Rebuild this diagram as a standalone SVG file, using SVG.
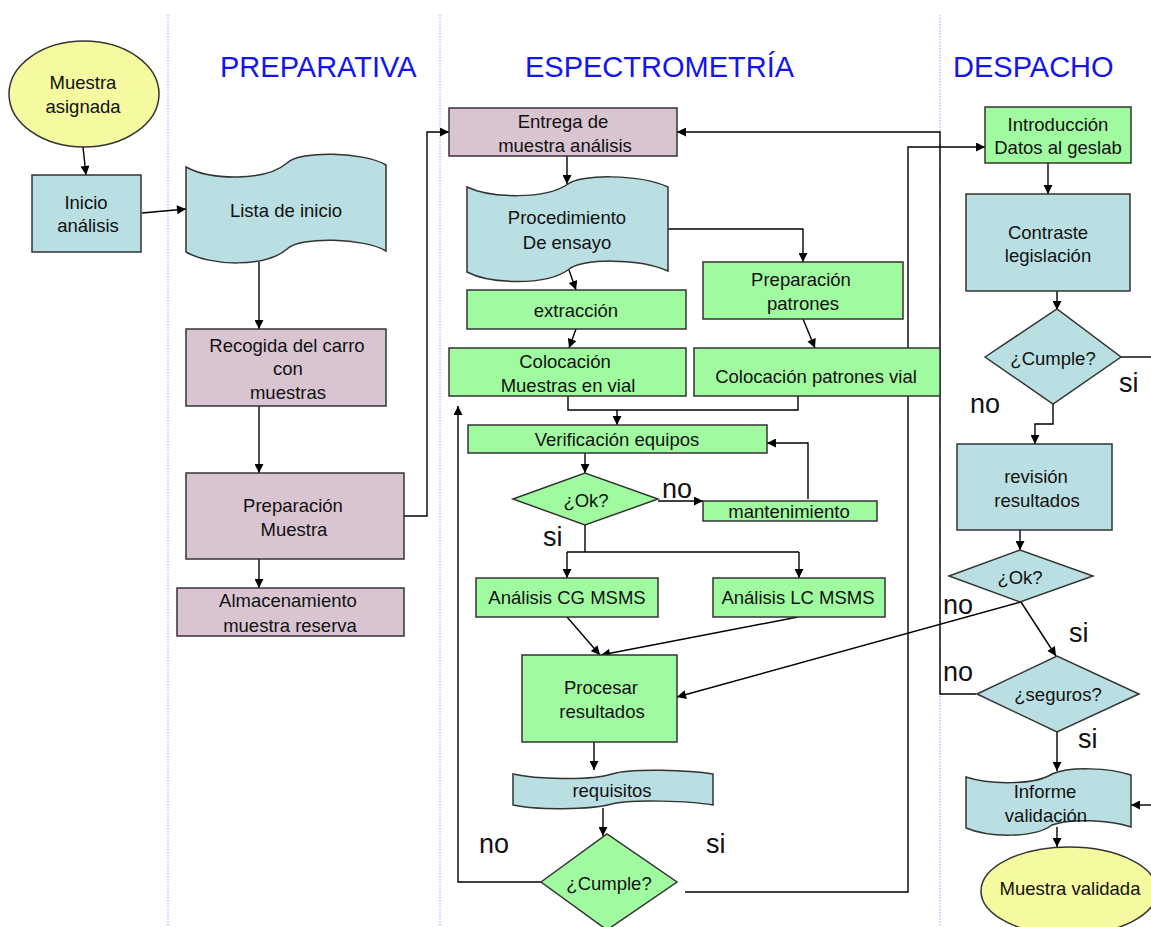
<svg xmlns="http://www.w3.org/2000/svg" width="1151" height="927" viewBox="0 0 1151 927">
<defs>
<marker id="ah" viewBox="0 0 10 10" refX="10" refY="5" markerWidth="10" markerHeight="9" markerUnits="userSpaceOnUse" orient="auto">
<path d="M0,0 L10,5 L0,10 Z" fill="#000"/>
</marker>
<style>
.n{stroke:#333;stroke-width:1.5}
.y{fill:#f5f99f}
.b{fill:#b9dfe2}
.m{fill:#d9c5d1}
.g{fill:#a0fba0}
text{font-family:"Liberation Sans",Arial,sans-serif;font-size:18.5px;fill:#111;text-anchor:middle}
.t{font-size:29px;fill:#1414f0;text-anchor:start}
.l{font-size:27px;text-anchor:start}
.c{fill:none;stroke:#000;stroke-width:1.4}
.lane{stroke:#8ea6ee;stroke-width:1;stroke-dasharray:1.5 1.5}
</style>
</defs>
<rect width="1151" height="927" fill="#fff"/>
<g id="lanes">
<line class="lane" x1="168" y1="15" x2="168" y2="927"/>
<line class="lane" x1="440" y1="15" x2="440" y2="927"/>
<line class="lane" x1="940" y1="15" x2="940" y2="927"/>
<text class="t" x="220" y="77">PREPARATIVA</text>
<text class="t" x="525" y="77">ESPECTROMETRÍA</text>
<text class="t" x="953" y="77">DESPACHO</text>
</g>
<g id="connectors">
<line class="c" x1="83" y1="147" x2="86" y2="175" marker-end="url(#ah)"/>
<line class="c" x1="142" y1="213" x2="186" y2="209" marker-end="url(#ah)"/>
<line class="c" x1="259" y1="262" x2="259" y2="329" marker-end="url(#ah)"/>
<line class="c" x1="259" y1="406" x2="259" y2="473" marker-end="url(#ah)"/>
<line class="c" x1="259" y1="559" x2="259" y2="588" marker-end="url(#ah)"/>
<polyline class="c" points="404,516 427,516 427,132 449,132" marker-end="url(#ah)"/>
<polyline class="c" points="976,694 940,694 940,132 677,132" marker-end="url(#ah)"/>
<line class="c" x1="567" y1="156" x2="567" y2="184" marker-end="url(#ah)"/>
<polyline class="c" points="668,229 803,229 803,262" marker-end="url(#ah)"/>
<line class="c" x1="569" y1="270" x2="576" y2="290" marker-end="url(#ah)"/>
<line class="c" x1="576" y1="329" x2="569" y2="348" marker-end="url(#ah)"/>
<line class="c" x1="803" y1="319" x2="815" y2="348" marker-end="url(#ah)"/>
<polyline class="c" points="568,396 568,410 798,410 798,396"/>
<line class="c" x1="617" y1="410" x2="617" y2="425" marker-end="url(#ah)"/>
<line class="c" x1="585" y1="453" x2="585" y2="473" marker-end="url(#ah)"/>
<line class="c" x1="658" y1="501" x2="703" y2="501" stroke-width="2" marker-end="url(#ah)"/>
<polyline class="c" points="808,499 808,443 767,443" marker-end="url(#ah)"/>
<polyline class="c" points="585,525 585,552"/>
<line class="c" x1="567" y1="552" x2="799" y2="552"/>
<line class="c" x1="567" y1="552" x2="567" y2="578" marker-end="url(#ah)"/>
<line class="c" x1="799" y1="552" x2="799" y2="578" marker-end="url(#ah)"/>
<line class="c" x1="567" y1="617" x2="600" y2="655" marker-end="url(#ah)"/>
<line class="c" x1="798" y1="617" x2="601" y2="655" marker-end="url(#ah)"/>
<line class="c" x1="1021" y1="602" x2="677" y2="697" stroke-width="2" marker-end="url(#ah)"/>
<line class="c" x1="594" y1="742" x2="594" y2="770" marker-end="url(#ah)"/>
<line class="c" x1="603" y1="808" x2="603" y2="836" marker-end="url(#ah)"/>
<polyline class="c" points="541,882 458,882 458,406" marker-end="url(#ah)"/>
<polyline class="c" points="685,892 908,892 908,147 985,147" marker-end="url(#ah)"/>
<line class="c" x1="1048" y1="163" x2="1048" y2="194" marker-end="url(#ah)"/>
<line class="c" x1="1057" y1="291" x2="1057" y2="310" marker-end="url(#ah)"/>
<line class="c" x1="1121" y1="357" x2="1151" y2="357" stroke-width="2"/>
<polyline class="c" points="1053,404 1053,424 1035,424 1035,444" marker-end="url(#ah)"/>
<line class="c" x1="1020" y1="530" x2="1020" y2="550" marker-end="url(#ah)"/>
<line class="c" x1="1021" y1="602" x2="1056" y2="656" marker-end="url(#ah)"/>
<line class="c" x1="1057" y1="732" x2="1057" y2="771" marker-end="url(#ah)"/>
<line class="c" x1="1151" y1="805" x2="1131" y2="805" stroke-width="2" marker-end="url(#ah)"/>
<line class="c" x1="1057" y1="827" x2="1057" y2="847" marker-end="url(#ah)"/>
</g>
<g id="labels">
<text class="l" x="662" y="498">no</text>
<text class="l" x="543" y="546">si</text>
<text class="l" x="479" y="853">no</text>
<text class="l" x="706" y="853">si</text>
<text class="l" x="1119" y="392">si</text>
<text class="l" x="970" y="413">no</text>
<text class="l" x="943" y="614">no</text>
<text class="l" x="1069" y="642">si</text>
<text class="l" x="943" y="681">no</text>
<text class="l" x="1078" y="748">si</text>
</g>
<g id="muestra-asignada">
<ellipse class="n y" cx="84" cy="94" rx="75" ry="53"/>
<text x="83" y="89">Muestra</text>
<text x="83" y="113">asignada</text>
</g>
<g id="inicio-analisis">
<rect class="n b" x="32" y="175" width="109" height="77"/>
<text x="86" y="209">Inicio</text>
<text x="88" y="232">análisis</text>
</g>
<g id="lista-inicio">
<path class="n b" d="M186,167 C210,180 265,182 287,163 C300,150 365,152 386,165 L386,251 C365,238 300,236 287,249 C265,268 210,266 186,252 Z"/>
<text x="286" y="217">Lista de inicio</text>
</g>
<g id="recogida">
<rect class="n m" x="186" y="329" width="200" height="77"/>
<text x="287" y="352">Recogida del carro</text>
<text x="288" y="375">con</text>
<text x="288" y="399">muestras</text>
</g>
<g id="preparacion-muestra">
<rect class="n m" x="186" y="473" width="218" height="86"/>
<text x="293" y="512">Preparación</text>
<text x="294" y="536">Muestra</text>
</g>
<g id="almacenamiento">
<rect class="n m" x="177" y="588" width="227" height="48"/>
<text x="288" y="607">Almacenamiento</text>
<text x="290" y="632">muestra reserva</text>
</g>
<g id="entrega">
<rect class="n m" x="449" y="108" width="228" height="48"/>
<text x="563" y="128">Entrega de</text>
<text x="565" y="152">muestra análisis</text>
</g>
<g id="procedimiento">
<path class="n b" d="M467,187 C490,198 545,200 568,184 C580,174 640,174 668,187 L668,271 C640,258 580,258 568,270 C545,286 490,284 467,272 Z"/>
<text x="567" y="224">Procedimiento</text>
<text x="567" y="249">De ensayo</text>
</g>
<g id="extraccion">
<rect class="n g" x="467" y="290" width="219" height="39"/>
<text x="576" y="317">extracción</text>
</g>
<g id="colocacion-muestras">
<rect class="n g" x="449" y="348" width="237" height="48"/>
<text x="565" y="368">Colocación</text>
<text x="568" y="392">Muestras en vial</text>
</g>
<g id="preparacion-patrones">
<rect class="n g" x="703" y="262" width="200" height="57"/>
<text x="801" y="286">Preparación</text>
<text x="803" y="310">patrones</text>
</g>
<g id="colocacion-patrones">
<rect class="n g" x="694" y="348" width="246" height="48"/>
<text x="816" y="383">Colocación patrones  vial</text>
</g>
<g id="verificacion">
<rect class="n g" x="468" y="425" width="299" height="28"/>
<text x="617" y="446">Verificación equipos</text>
</g>
<g id="ok-espectro">
<polygon class="n g" points="513,499 585,473 658,499 585,525"/>
<text x="586" y="507">¿Ok?</text>
</g>
<g id="mantenimiento">
<rect class="n g" x="703" y="501" width="174" height="20"/>
<text x="789" y="518">mantenimiento</text>
</g>
<g id="analisis-cg">
<rect class="n g" x="476" y="578" width="182" height="39"/>
<text x="567" y="604">Análisis CG MSMS</text>
</g>
<g id="analisis-lc">
<rect class="n g" x="713" y="578" width="172" height="39"/>
<text x="798" y="604">Análisis LC MSMS</text>
</g>
<g id="procesar">
<rect class="n g" x="522" y="655" width="155" height="87"/>
<text x="601" y="694">Procesar</text>
<text x="602" y="718">resultados</text>
</g>
<g id="requisitos">
<path class="n b" d="M513,774 C535,779 590,781 612,774 C630,768 690,770 713,774 L713,805 C690,801 630,799 612,804 C590,810 535,810 513,805 Z"/>
<text x="612" y="797">requisitos</text>
</g>
<g id="cumple-espectro">
<polygon class="n g" points="541,882 607,834 677,882 607,930"/>
<text x="609" y="890">¿Cumple?</text>
</g>
<g id="introduccion">
<rect class="n g" x="985" y="107" width="146" height="56"/>
<text x="1058" y="131">Introducción</text>
<text x="1058" y="154">Datos al geslab</text>
</g>
<g id="contraste">
<rect class="n b" x="966" y="194" width="164" height="97"/>
<text x="1048" y="239">Contraste</text>
<text x="1048" y="262">legislación</text>
</g>
<g id="cumple-despacho">
<polygon class="n b" points="985,357 1057,309 1121,357 1053,404"/>
<text x="1053" y="365">¿Cumple?</text>
</g>
<g id="revision">
<rect class="n b" x="957" y="444" width="155" height="86"/>
<text x="1036" y="483">revisión</text>
<text x="1037" y="507">resultados</text>
</g>
<g id="ok-despacho">
<polygon class="n b" points="949,576 1020,550 1093,576 1020,602"/>
<text x="1020" y="584">¿Ok?</text>
</g>
<g id="seguros">
<polygon class="n b" points="977,694 1057,656 1139,694 1057,732"/>
<text x="1058" y="701">¿seguros?</text>
</g>
<g id="informe">
<path class="n b" d="M966,777 C990,785 1035,785 1052,774 C1070,766 1110,768 1131,775 L1131,827 C1110,820 1070,818 1052,825 C1035,838 990,838 966,828 Z"/>
<text x="1045" y="798">Informe</text>
<text x="1046" y="822">validación</text>
</g>
<g id="muestra-validada">
<ellipse class="n y" cx="1069" cy="891" rx="88" ry="44"/>
<text x="1070" y="895">Muestra validada</text>
</g>
</svg>
